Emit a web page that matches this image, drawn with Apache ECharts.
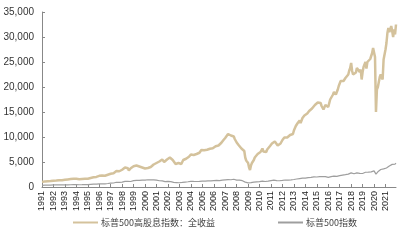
<!DOCTYPE html>
<html><head><meta charset="utf-8">
<script src="https://cdn.jsdelivr.net/npm/echarts@6/dist/echarts.min.js"></script>
<style>html,body{margin:0;padding:0;background:#fff}#c{width:417px;height:240px}</style>
</head><body><div id="c"></div>
<script>
const years = [];
for (let y = 1991; y <= 2021; y++) years.push(String(y));
const months = ['01','02','03','04','05','06','07','08','09','10','11','12'];
const categories = [];
years.forEach(y => months.forEach(m => categories.push(y + '-' + m)));

const seriesNames = ['标普500高股息指数：全收益', '标普500指数'];

const highDividendTR = [
1000,1060,1100,1120,1150,1130,1170,1190,1180,1200,1160,1260,
1270,1290,1280,1310,1330,1320,1370,1350,1370,1360,1390,1420,
1450,1500,1540,1520,1550,1570,1580,1630,1620,1640,1610,1630,
1660,1620,1550,1570,1590,1560,1610,1660,1620,1640,1580,1600,
1650,1720,1760,1810,1880,1900,1950,1960,2030,2020,2120,2180,
2230,2240,2260,2280,2300,2320,2250,2290,2380,2450,2600,2580,
2650,2720,2620,2750,2900,3000,3200,3080,3250,3150,3300,3380,
3450,3700,3850,3900,3800,3850,3750,3300,3500,3750,3950,4050,
4150,4000,4050,4300,4200,4300,4100,4000,3800,3900,3850,3900,
3700,3450,3750,3800,3900,4000,4000,4300,4350,4500,4400,4700,
4800,4900,4850,5100,5300,5400,5500,5300,5000,5000,5300,5500,
5500,5600,5900,5750,5700,5400,5000,5100,4600,4800,5000,4800,
4700,4550,4600,5000,5400,5500,5550,5650,5700,5950,6050,6400,
6500,6700,6600,6400,6500,6650,6600,6700,6800,6850,7150,7400,
7300,7500,7350,7200,7350,7450,7650,7550,7650,7500,7700,7750,
7900,8000,8150,8350,8200,8300,8500,8650,8850,9150,9350,9500,
9800,9900,10200,10600,11000,10800,10300,10200,10300,10100,9600,9300,
8900,8500,8400,8700,8600,7700,7500,7700,7200,5900,5300,5500,
4800,3900,3400,4300,4800,4900,5400,5900,6200,6200,6600,6900,
6800,7000,7400,7700,7100,6700,7200,7000,7500,7800,7800,8200,
8400,8700,8800,9100,9100,9000,8700,8300,7900,8600,8700,9100,
9400,9600,9900,10000,9500,9900,10100,10200,10400,10300,10300,10600,
11300,11600,12200,12600,12800,12500,13300,12800,13200,13800,14200,14300,
13900,14400,14700,15000,15200,15500,15100,15700,15400,15900,16400,16500,
16200,16900,16600,16700,16800,16200,16500,15500,15200,16400,16300,16200,
16000,16300,17500,17800,17900,18500,19000,18700,18500,18200,19500,20200,
20500,21200,21000,21000,21200,21500,21800,21600,22200,22500,23300,23800,
24800,23200,22500,22700,22600,22900,23800,23900,24200,23000,23500,21500,
23000,24000,24200,25000,23700,25000,25300,24900,25600,26000,26800,27800,
28000,26000,15000,19500,20000,21000,22000,22500,22200,21500,25500,26500,
27500,28800,30800,31800,31000,31500,32200,31200,30000,31500,30500,32500
];

const sp500 = [
330,345,365,375,375,380,385,390,385,390,375,415,
410,410,405,415,415,410,425,415,418,418,430,435,
440,445,450,440,450,450,448,465,460,468,462,466,
480,467,445,450,456,444,458,475,462,472,454,459,
470,487,500,515,533,545,562,562,584,582,605,615,
636,640,645,654,669,670,640,651,687,705,757,740,
786,790,757,801,848,885,954,899,947,914,955,970,
980,1049,1101,1111,1090,1133,1120,957,1017,1098,1163,1229,
1279,1238,1286,1335,1301,1372,1328,1320,1282,1362,1388,1469,
1394,1366,1498,1452,1420,1454,1430,1517,1436,1429,1315,1320,
1366,1240,1160,1249,1255,1224,1211,1133,1040,1060,1139,1148,
1130,1106,1147,1076,1067,990,911,916,815,885,936,880,
855,841,848,916,964,975,990,1008,996,1050,1058,1112,
1131,1145,1126,1107,1121,1141,1102,1104,1115,1130,1174,1212,
1181,1204,1180,1157,1192,1191,1234,1220,1229,1207,1249,1248,
1280,1281,1295,1311,1270,1270,1277,1304,1336,1378,1401,1418,
1438,1407,1421,1482,1531,1503,1455,1474,1527,1549,1481,1468,
1379,1331,1323,1386,1400,1280,1267,1283,1165,969,896,903,
826,735,798,873,919,919,987,1021,1057,1036,1096,1115,
1074,1104,1169,1187,1089,1031,1102,1049,1141,1183,1181,1258,
1286,1327,1326,1364,1345,1321,1292,1219,1131,1253,1247,1258,
1312,1366,1408,1398,1310,1362,1379,1407,1441,1412,1416,1426,
1498,1515,1569,1598,1631,1606,1686,1633,1682,1757,1806,1848,
1783,1859,1872,1884,1924,1960,1931,2003,1972,2018,2068,2059,
1995,2105,2068,2086,2107,2063,2104,1972,1920,2079,2080,2044,
1940,1932,2060,2065,2097,2099,2174,2171,2168,2126,2199,2239,
2279,2364,2363,2384,2412,2423,2470,2472,2519,2575,2648,2674,
2824,2714,2641,2648,2705,2718,2816,2902,2914,2712,2760,2507,
2704,2784,2834,2946,2752,2942,2980,2926,2977,3038,3141,3231,
3226,2954,2585,2912,3044,3100,3271,3500,3363,3270,3622,3756,
3714,3811,3973,4181,4204,4298,4395,4523,4308,4605,4567,4766
];

const yTicks = [0, 5000, 10000, 15000, 20000, 25000, 30000, 35000];

const chart = echarts.init(document.getElementById('c'), null, {renderer: 'canvas'});
chart.setOption({
  animation: false,
  backgroundColor: '#fff',
  grid: {left: 42, right: 21, top: 12, bottom: 53},
  legend: {
    bottom: 8, left: 68,
    itemWidth: 25, itemHeight: 2, itemGap: 63,
    icon: 'rect',
    textStyle: {fontFamily: 'Noto Sans CJK SC', fontSize: 9, color: '#444', padding: [0,0,0,-2]},
    data: seriesNames
  },
  xAxis: {
    type: 'category', data: categories, boundaryGap: false,
    axisLine: {lineStyle: {color: '#888', width: 1}},
    axisTick: {inside: true, length: 3, interval: 11, lineStyle: {color: '#888'}},
    axisLabel: {
      interval: 11, rotate: 90, fontSize: 9, color: '#222', margin: 4,
      fontFamily: 'Liberation Sans',
      formatter: v => v.slice(0, 4)
    }
  },
  yAxis: {
    type: 'value', min: yTicks[0], max: yTicks[yTicks.length - 1], interval: 5000,
    axisLine: {show: true, lineStyle: {color: '#888', width: 1}},
    axisTick: {show: true, inside: true, length: 3, lineStyle: {color: '#888'}},
    splitLine: {show: false},
    axisLabel: {
      fontSize: 10, color: '#333', margin: 8, fontFamily: 'Liberation Sans',
      formatter: v => v.toLocaleString('en-US')
    }
  },
  series: [
    {name: seriesNames[0], type: 'line', data: highDividendTR, showSymbol: false,
     lineStyle: {color: '#d4c29c', width: 2.5}, itemStyle: {color: '#d4c29c'}},
    {name: seriesNames[1], type: 'line', data: sp500, showSymbol: false,
     lineStyle: {color: '#9e9e9e', width: 1.2}, itemStyle: {color: '#9e9e9e'}}
  ]
});
</script></body></html>
